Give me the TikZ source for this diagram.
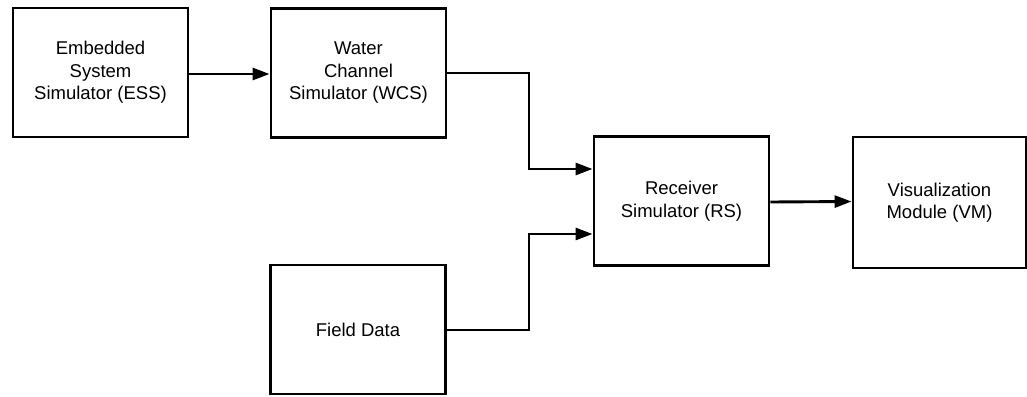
\documentclass[tikz,border=0pt]{standalone}
\usepackage{fontspec}
\setmainfont{Liberation Sans}
\usetikzlibrary{arrows.meta}
\begin{document}
\begin{tikzpicture}[x=1pt,y=-1pt,
  block/.style={draw=black, line width=2.9pt, rectangle,
    minimum width=175pt, minimum height=129pt, inner sep=0pt,
    align=center, font=\fontsize{18.5pt}{22.5pt}\selectfont},
  flow/.style={line width=2.9pt, -{Triangle[length=17pt,width=12pt]}}]
\useasboundingbox (0,0) rectangle (1027,396);

% blocks
\node[block] (ess) at (100.5,72.5) {Embedded\\System\\Simulator (ESS)};
\node[block] (wcs) at (358.5,73) {Water\\Channel\\Simulator (WCS)};
\node[block] (fd)  at (358,329.5) {Field Data};
\node[block] (rs)  at (681.5,201) {Receiver\\Simulator (RS)};
\node[block, minimum width=173pt, minimum height=131pt] (vm) at (939.5,202.5) {Visualization\\Module (VM)};

% bends of the feeder lines into the receiver
\coordinate (j1a) at (529,73);
\coordinate (j1b) at (529,169);
\coordinate (j2a) at (529,330);
\coordinate (j2b) at (529,234);
\coordinate (rsin1) at (rs.west |- j1b);
\coordinate (rsin2) at (rs.west |- j2b);
\coordinate (rsout) at ([yshift=-1pt]rs.east);
\coordinate (vmin) at ([yshift=1pt]vm.west);

% connectors
\draw[flow] (ess.east |- 0,74) -- (wcs.west |- 0,74);
\draw[flow] (wcs.east |- j1a) -- (j1a) -- (j1b) -- (rsin1);
\draw[flow] (fd.east |- j2a) -- (j2a) -- (j2b) -- (rsin2);
\draw[flow] (rsout) -- (vmin);
\end{tikzpicture}
\end{document}
